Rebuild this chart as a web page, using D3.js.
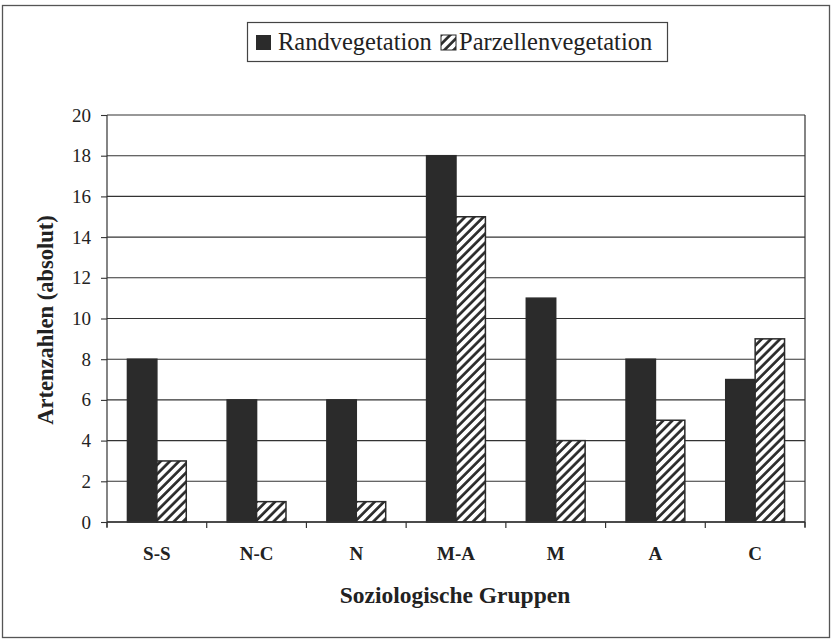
<!DOCTYPE html>
<html><head><meta charset="utf-8">
<script src="https://cdn.jsdelivr.net/npm/d3@7"></script>
</head><body>
<script>
const categories = ["S-S","N-C","N","M-A","M","A","C"];
const seriesNames = ["Randvegetation","Parzellenvegetation"];
const randValues = [8,6,6,18,11,8,7];
const parzValues = [3,1,1,15,4,5,9];
const yTicks = [0,2,4,6,8,10,12,14,16,18,20];

const FONT='"Liberation Serif"';
d3.select("body").style("margin","0px").style("font-family",FONT);
const W=833,H=642;
const m={left:107,right:805,top:115,bottom:522};
const ink="#2b2b2b";
const svg=d3.select("body").append("svg").attr("width",W).attr("height",H)
  .attr("font-family","Liberation Serif").style("font-family",FONT);
const defs=svg.append("defs");
const pat=defs.append("pattern").attr("id","hatch").attr("patternUnits","userSpaceOnUse")
  .attr("width",6.5).attr("height",6.5).attr("patternTransform","rotate(45)");
pat.append("rect").attr("width",6.5).attr("height",6.5).attr("fill",ink);
pat.append("rect").attr("x",0).attr("width",3.8).attr("height",6.5).attr("fill","#fff");

function txt(sel){ return sel.style("font-family",FONT).attr("font-family","Liberation Serif"); }

// frame
svg.append("rect").attr("x",2.5).attr("y",5.5).attr("width",827).attr("height",632)
  .attr("fill","none").attr("stroke","#555").attr("stroke-width",1.3);

const y=d3.scaleLinear().domain([0,20]).range([m.bottom,m.top]);
const x0=d3.scaleBand().domain(categories).range([m.left,m.right]).paddingInner(0.41).paddingOuter(0.205);
const x1=d3.scaleBand().domain(seriesNames).range([0,x0.bandwidth()]);

// gridlines
svg.append("g").selectAll("line").data(yTicks).join("line")
  .attr("x1",m.left).attr("x2",m.right).attr("y1",d=>y(d)).attr("y2",d=>y(d))
  .attr("stroke","#333").attr("stroke-width",1.1);

// y axis
const ya=svg.append("g").attr("transform",`translate(${m.left},0)`)
  .call(d3.axisLeft(y).tickValues(yTicks).tickSize(6).tickPadding(10));
ya.attr("font-family","Liberation Serif").attr("font-size",19);
ya.select(".domain").remove();
ya.append("line").attr("x1",0).attr("x2",0).attr("y1",m.top).attr("y2",m.bottom+5).attr("stroke","#333").attr("stroke-width",1.2);
ya.selectAll(".tick line").attr("stroke","#333").attr("stroke-width",1.1);
txt(ya.selectAll(".tick text")).attr("font-size",19).attr("fill","#222");

// right border
svg.append("line").attr("x1",m.right).attr("x2",m.right).attr("y1",m.top).attr("y2",m.bottom+5)
  .attr("stroke","#333").attr("stroke-width",1.2);

// bars
const rows=categories.map((c,i)=>({c,vals:[{s:seriesNames[0],v:randValues[i]},{s:seriesNames[1],v:parzValues[i]}]}));
const g=svg.append("g");
g.selectAll("g").data(rows).join("g").attr("transform",d=>`translate(${x0(d.c)},0)`)
  .selectAll("rect").data(d=>d.vals).join("rect")
  .attr("x",d=>x1(d.s)).attr("width",x1.bandwidth())
  .attr("y",d=>y(d.v)).attr("height",d=>y(0)-y(d.v))
  .attr("fill",d=>d.s===seriesNames[0]?ink:"url(#hatch)")
  .attr("stroke",ink).attr("stroke-width",1.5);

// x axis
const step=(m.right-m.left)/categories.length;
const xa=svg.append("g");
xa.append("line").attr("x1",m.left).attr("x2",m.right).attr("y1",m.bottom).attr("y2",m.bottom).attr("stroke","#333").attr("stroke-width",1.3);
xa.selectAll("line.t").data(d3.range(categories.length+1)).join("line").attr("class","t")
  .attr("x1",i=>m.left+i*step).attr("x2",i=>m.left+i*step).attr("y1",m.bottom).attr("y2",m.bottom+6)
  .attr("stroke","#333").attr("stroke-width",1.2);
txt(xa.selectAll("text").data(categories).join("text"))
  .attr("x",d=>x0(d)+x0.bandwidth()/2).attr("y",560).attr("text-anchor","middle")
  .attr("font-weight","bold").attr("font-size",19).attr("fill","#222")
  .text(d=>d);

// axis titles
txt(svg.append("text")).attr("x",455).attr("y",603).attr("text-anchor","middle")
  .attr("font-weight","bold").attr("font-size",23.5).attr("fill","#222")
  .text("Soziologische Gruppen");
txt(svg.append("text")).attr("transform","translate(53,320) rotate(-90)").attr("text-anchor","middle")
  .attr("font-weight","bold").attr("font-size",22.5).attr("fill","#222")
  .text("Artenzahlen (absolut)");

// legend
const lg=svg.append("g");
lg.append("rect").attr("x",247.5).attr("y",22.5).attr("width",420).attr("height",39)
  .attr("fill","#fff").attr("stroke","#444").attr("stroke-width",1.2);
lg.append("rect").attr("x",256).attr("y",35).attr("width",15).attr("height",15).attr("fill",ink);
txt(lg.append("text")).attr("x",278).attr("y",50).attr("font-size",24.5).attr("fill","#222").text(seriesNames[0]);
lg.append("rect").attr("x",441).attr("y",35).attr("width",15).attr("height",15).attr("fill","url(#hatch)").attr("stroke",ink).attr("stroke-width",1);
txt(lg.append("text")).attr("x",459).attr("y",50).attr("font-size",24.5).attr("fill","#222").text(seriesNames[1]);
</script>
</body></html>
